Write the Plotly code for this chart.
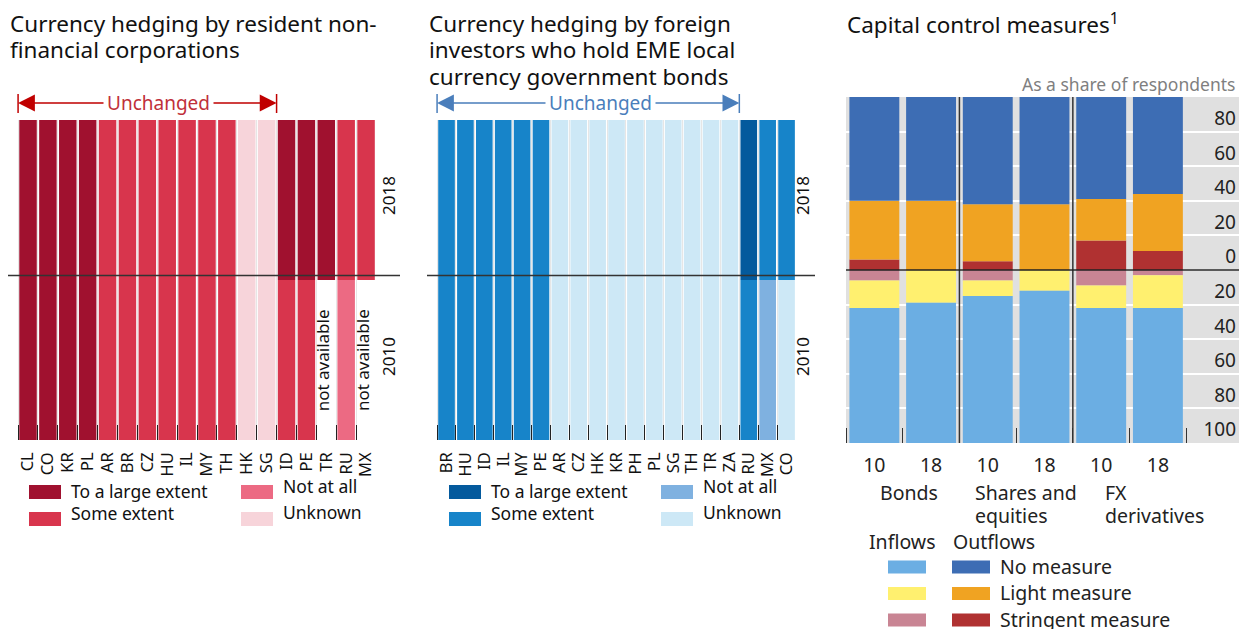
import plotly.graph_objects as go

W, H = 1239, 629
FONT = "Noto Sans, Open Sans, sans-serif"


def px_x(v):
    return v / W


def px_y(v):
    return 1 - v / H


# Hedging levels: L = to a large extent, S = some extent, N = not at all, U = unknown, None = not available
LEVEL_NAMES = {"L": "To a large extent", "S": "Some extent", "N": "Not at all", "U": "Unknown"}

corp_countries = ["CL", "CO", "KR", "PL", "AR", "BR", "CZ", "HU", "IL", "MY", "TH", "HK", "SG",
                  "ID", "PE", "TR", "RU", "MX"]
corp_2018 = ["L", "L", "L", "L", "S", "S", "S", "S", "S", "S", "S", "U", "U",
             "L", "L", "L", "S", "S"]
corp_2010 = ["L", "L", "L", "L", "S", "S", "S", "S", "S", "S", "S", "U", "U",
             "S", "S", None, "N", None]
corp_colors = {"L": "#A0112F", "S": "#D8354D", "N": "#EC6A83", "U": "#F7D4DA"}

inv_countries = ["BR", "HU", "ID", "IL", "MY", "PE", "AR", "CZ", "HK", "KR", "PH", "PL", "SG",
                 "TH", "TR", "ZA", "RU", "MX", "CO"]
inv_2018 = ["S", "S", "S", "S", "S", "S", "U", "U", "U", "U", "U", "U", "U",
            "U", "U", "U", "L", "S", "S"]
inv_2010 = ["S", "S", "S", "S", "S", "S", "U", "U", "U", "U", "U", "U", "U",
            "U", "U", "U", "S", "N", "U"]
inv_colors = {"L": "#045A9D", "S": "#1784C9", "N": "#7FB1E0", "U": "#CDE8F6"}

# Capital control measures, % of respondents
cc_labels = ["10", "18", "10", "18", "10", "18"]
cc_groups = [["Bonds"], ["Shares and", "equities"], ["FX", "derivatives"]]
out_stringent = [6, 0, 5, 0, 17, 11]
out_light = [34, 40, 33, 38, 24, 33]
out_none = [60, 60, 62, 62, 59, 56]
in_stringent = [6, 0, 6, 0, 9, 3]
in_light = [16, 19, 9, 12, 13, 19]
in_none = [78, 81, 85, 88, 78, 78]
cc_ticks = [-100, -80, -60, -40, -20, 0, 20, 40, 60, 80]

MEASURES = ["No measure", "Light measure", "Stringent measure"]
in_colors = ["#6BAEE3", "#FFF06F", "#C98594"]
out_colors = ["#3D6DB4", "#F0A322", "#B03131"]

fig = go.Figure()


def hedging_traces(countries, v2018, v2010, colors, xa, ya):
    for year, levels, sign in (("2018", v2018, 1), ("2010", v2010, -1)):
        fig.add_trace(go.Bar(
            x=countries,
            y=[sign if lv else None for lv in levels],
            marker_color=[colors.get(lv, "white") for lv in levels],
            marker_line_width=0,
            customdata=[LEVEL_NAMES.get(lv, "not available") for lv in levels],
            hovertemplate="%{x} " + year + ": %{customdata}<extra></extra>",
            xaxis=xa, yaxis=ya, showlegend=False,
        ))


hedging_traces(corp_countries, corp_2018, corp_2010, corp_colors, "x", "y")
hedging_traces(inv_countries, inv_2018, inv_2010, inv_colors, "x2", "y2")

cc_x = list(range(len(cc_labels)))
for vals, name, col in zip([out_stringent, out_light, out_none], MEASURES[::-1], out_colors[::-1]):
    fig.add_trace(go.Bar(x=cc_x, y=vals, marker_color=col, marker_line_width=0,
                         name="Outflows: " + name, xaxis="x3", yaxis="y3", showlegend=False))
for vals, name, col in zip([in_stringent, in_light, in_none], MEASURES[::-1], in_colors[::-1]):
    fig.add_trace(go.Bar(x=cc_x, y=[-v for v in vals], marker_color=col, marker_line_width=0,
                         name="Inflows: " + name, xaxis="x3", yaxis="y3", showlegend=False))

shapes = []
annotations = []


def note(text, x, y, size, color="#111", xanchor="left", **kw):
    # paper-positioned text, given in pixels from the top-left corner
    d = dict(text=text, x=px_x(x), y=px_y(y), xref="paper", yref="paper", xanchor=xanchor,
             yanchor=kw.pop("yanchor", "middle"), showarrow=False, font=dict(size=size, color=color))
    d.update(kw)
    annotations.append(d)


cat_axis = dict(
    type="category", tickmode="linear", tick0=0, dtick=1,
    tickson="boundaries", ticks="inside", ticklen=15, tickwidth=1.2,
    tickcolor="#222", tickangle=-90, tickfont=dict(size=16.5, color="#111"),
    showgrid=True, gridcolor="#e6e6e6", showline=False, zeroline=False,
    ticklabelstandoff=8, fixedrange=True,
)
hidden_y = dict(range=[-1, 1], showgrid=False, zeroline=False, showticklabels=False,
                domain=[px_y(440), px_y(120)], fixedrange=True)


def panel_decor(xa, x_left_px, x_line_end, year_x, unch_end, unch_text_x, arrow_col, text_col,
                na_cats, swatch_x, colors):
    # horizontal separator between 2018 and 2010
    shapes.append(dict(type="line", xref="paper", yref="paper", x0=px_x(x_left_px), x1=px_x(x_line_end),
                       y0=px_y(275.5), y1=px_y(275.5), line=dict(color="#333", width=1.5), layer="above"))
    for txt, y in (("2018", 196), ("2010", 357)):
        note(txt, year_x, y, 17, xanchor="center", textangle=-90)
    for cat in na_cats:
        annotations.append(dict(text="not available", x=cat, y=-0.5, xref=xa, yref=xa.replace("x", "y"),
                                xanchor="center", yanchor="middle", textangle=-90, showarrow=False,
                                xshift=-4, font=dict(size=17, color="#111")))
    # "Unchanged" bracket
    yy = px_y(103)
    for end in (-0.5, unch_end):
        annotations.append(dict(x=end, y=yy, xref=xa, yref="paper", ax=unch_text_x, ay=0,
                                axref=xa, ayref="pixel", text="", showarrow=True, arrowhead=2,
                                arrowsize=2.1, arrowwidth=1.6, arrowcolor=arrow_col))
        shapes.append(dict(type="line", xref=xa, yref="paper", x0=end, x1=end,
                           y0=px_y(94), y1=px_y(113), line=dict(color=arrow_col, width=1.5)))
    annotations.append(dict(text="Unchanged", x=unch_text_x, y=yy, xref=xa, yref="paper",
                            xanchor="center", yanchor="middle", showarrow=False,
                            bgcolor="white", borderpad=3, font=dict(size=19, color=text_col)))
    # legend
    entries = [("L", 0, 492, 491), ("S", 0, 519, 513), ("N", 212, 492, 486), ("U", 212, 519, 512)]
    for key, dx, sy, ty in entries:
        x0 = swatch_x + dx
        shapes.append(dict(type="rect", xref="paper", yref="paper", x0=px_x(x0), x1=px_x(x0 + 32),
                           y0=px_y(sy + 7), y1=px_y(sy - 7), fillcolor=colors[key], line_width=0))
        note(LEVEL_NAMES[key], x0 + 40, ty, 17.5)


panel_decor("x", 8, 400, 388, 12.5, 6.57, "#C00000", "#C0303A", ["TR", "MX"], 29, corp_colors)
panel_decor("x2", 427, 815, 802, 15.5, 8.15, "#4A7EBB", "#4A7EBB", [], 449, inv_colors)

# Capital controls panel decorations
shapes.append(dict(type="rect", xref="x3 domain", yref="y3 domain", x0=0, x1=1, y0=0, y1=1,
                   fillcolor="#e0e0e0", line_width=0, layer="below"))
for sep in (1.5, 3.5):
    shapes.append(dict(type="line", xref="x3", yref="y3 domain", x0=sep, x1=sep, y0=0, y1=1,
                       line=dict(color="#333", width=1.5), layer="above"))
shapes.append(dict(type="line", xref="x3 domain", yref="y3", x0=0, x1=1, y0=0, y1=0,
                   line=dict(color="#222", width=1.5), layer="above"))
for lines, x in zip(cc_groups, (878, 973, 1103)):
    for k, line in enumerate(lines):
        note(line, x, 492 + 23 * k, 19.5, color="#222")
note("As a share of respondents", 1237, 84, 17.5, color="#7f7f7f", xanchor="right")
note("Inflows", 867, 541, 19.5, color="#222")
note("Outflows", 951, 541, 19.5, color="#222")
for i, name in enumerate(MEASURES):
    yc = 567 + 26.5 * i
    for x0, col in ((888, in_colors[i]), (952, out_colors[i])):
        shapes.append(dict(type="rect", xref="paper", yref="paper", x0=px_x(x0), x1=px_x(x0 + 38),
                           y0=px_y(yc + 6.5), y1=px_y(yc - 6.5), fillcolor=col, line_width=0))
    note(name, 998, yc - 1, 19.5, color="#222")

# Titles, one line each
title_lines = [
    (8, ["Currency hedging by resident non-", "financial corporations"]),
    (427, ["Currency hedging by foreign", "investors who hold EME local", "currency government bonds"]),
    (845, ["Capital control measures<sup>1</sup>"]),
]
for x, lines in title_lines:
    for k, line in enumerate(lines):
        note(line, x, 24 + 26 * k, 22.5, color="#111")

fig.update_layout(
    width=W, height=H,
    margin=dict(l=0, r=0, t=0, b=0),
    paper_bgcolor="white", plot_bgcolor="white",
    font=dict(family=FONT, color="#111"),
    barmode="relative", bargap=0.12,
    xaxis=dict(cat_axis, domain=[px_x(8), px_x(376)], anchor="y"),
    yaxis=dict(hidden_y, anchor="x"),
    xaxis2=dict(cat_axis, domain=[px_x(427), px_x(796)], anchor="y2"),
    yaxis2=dict(hidden_y, anchor="x2"),
    xaxis3=dict(
        domain=[px_x(846), px_x(1239)], anchor="y3", range=[-0.5, 6.43],
        tickmode="array", tickvals=cc_x, ticktext=cc_labels, ticks="",
        tickfont=dict(size=19.5, color="#222"), ticklabelstandoff=8,
        showgrid=False, zeroline=False, showline=False, fixedrange=True,
        minor=dict(tickvals=[i - 0.5 for i in range(len(cc_labels) + 1)], ticks="inside",
                   ticklen=15, tickwidth=1.2, tickcolor="#333", showgrid=False),
    ),
    yaxis3=dict(
        domain=[px_y(443), px_y(97)], anchor="x3", side="right", range=[-100, 100],
        tickmode="array", tickvals=cc_ticks, ticktext=[str(abs(v)) for v in cc_ticks],
        ticklabelposition="inside top", ticks="", tickfont=dict(size=19, color="#222"),
        showgrid=True, gridcolor="white", gridwidth=1.5, zeroline=False, showline=False,
        fixedrange=True,
    ),
    shapes=shapes,
    annotations=annotations,
)

# the page body has a default 8px margin; drop it so the figure fills the window
fig.write_html(
    "out.html",
    config={"displayModeBar": False},
    post_script="document.body.style.margin='0';document.body.style.overflow='hidden';",
)
